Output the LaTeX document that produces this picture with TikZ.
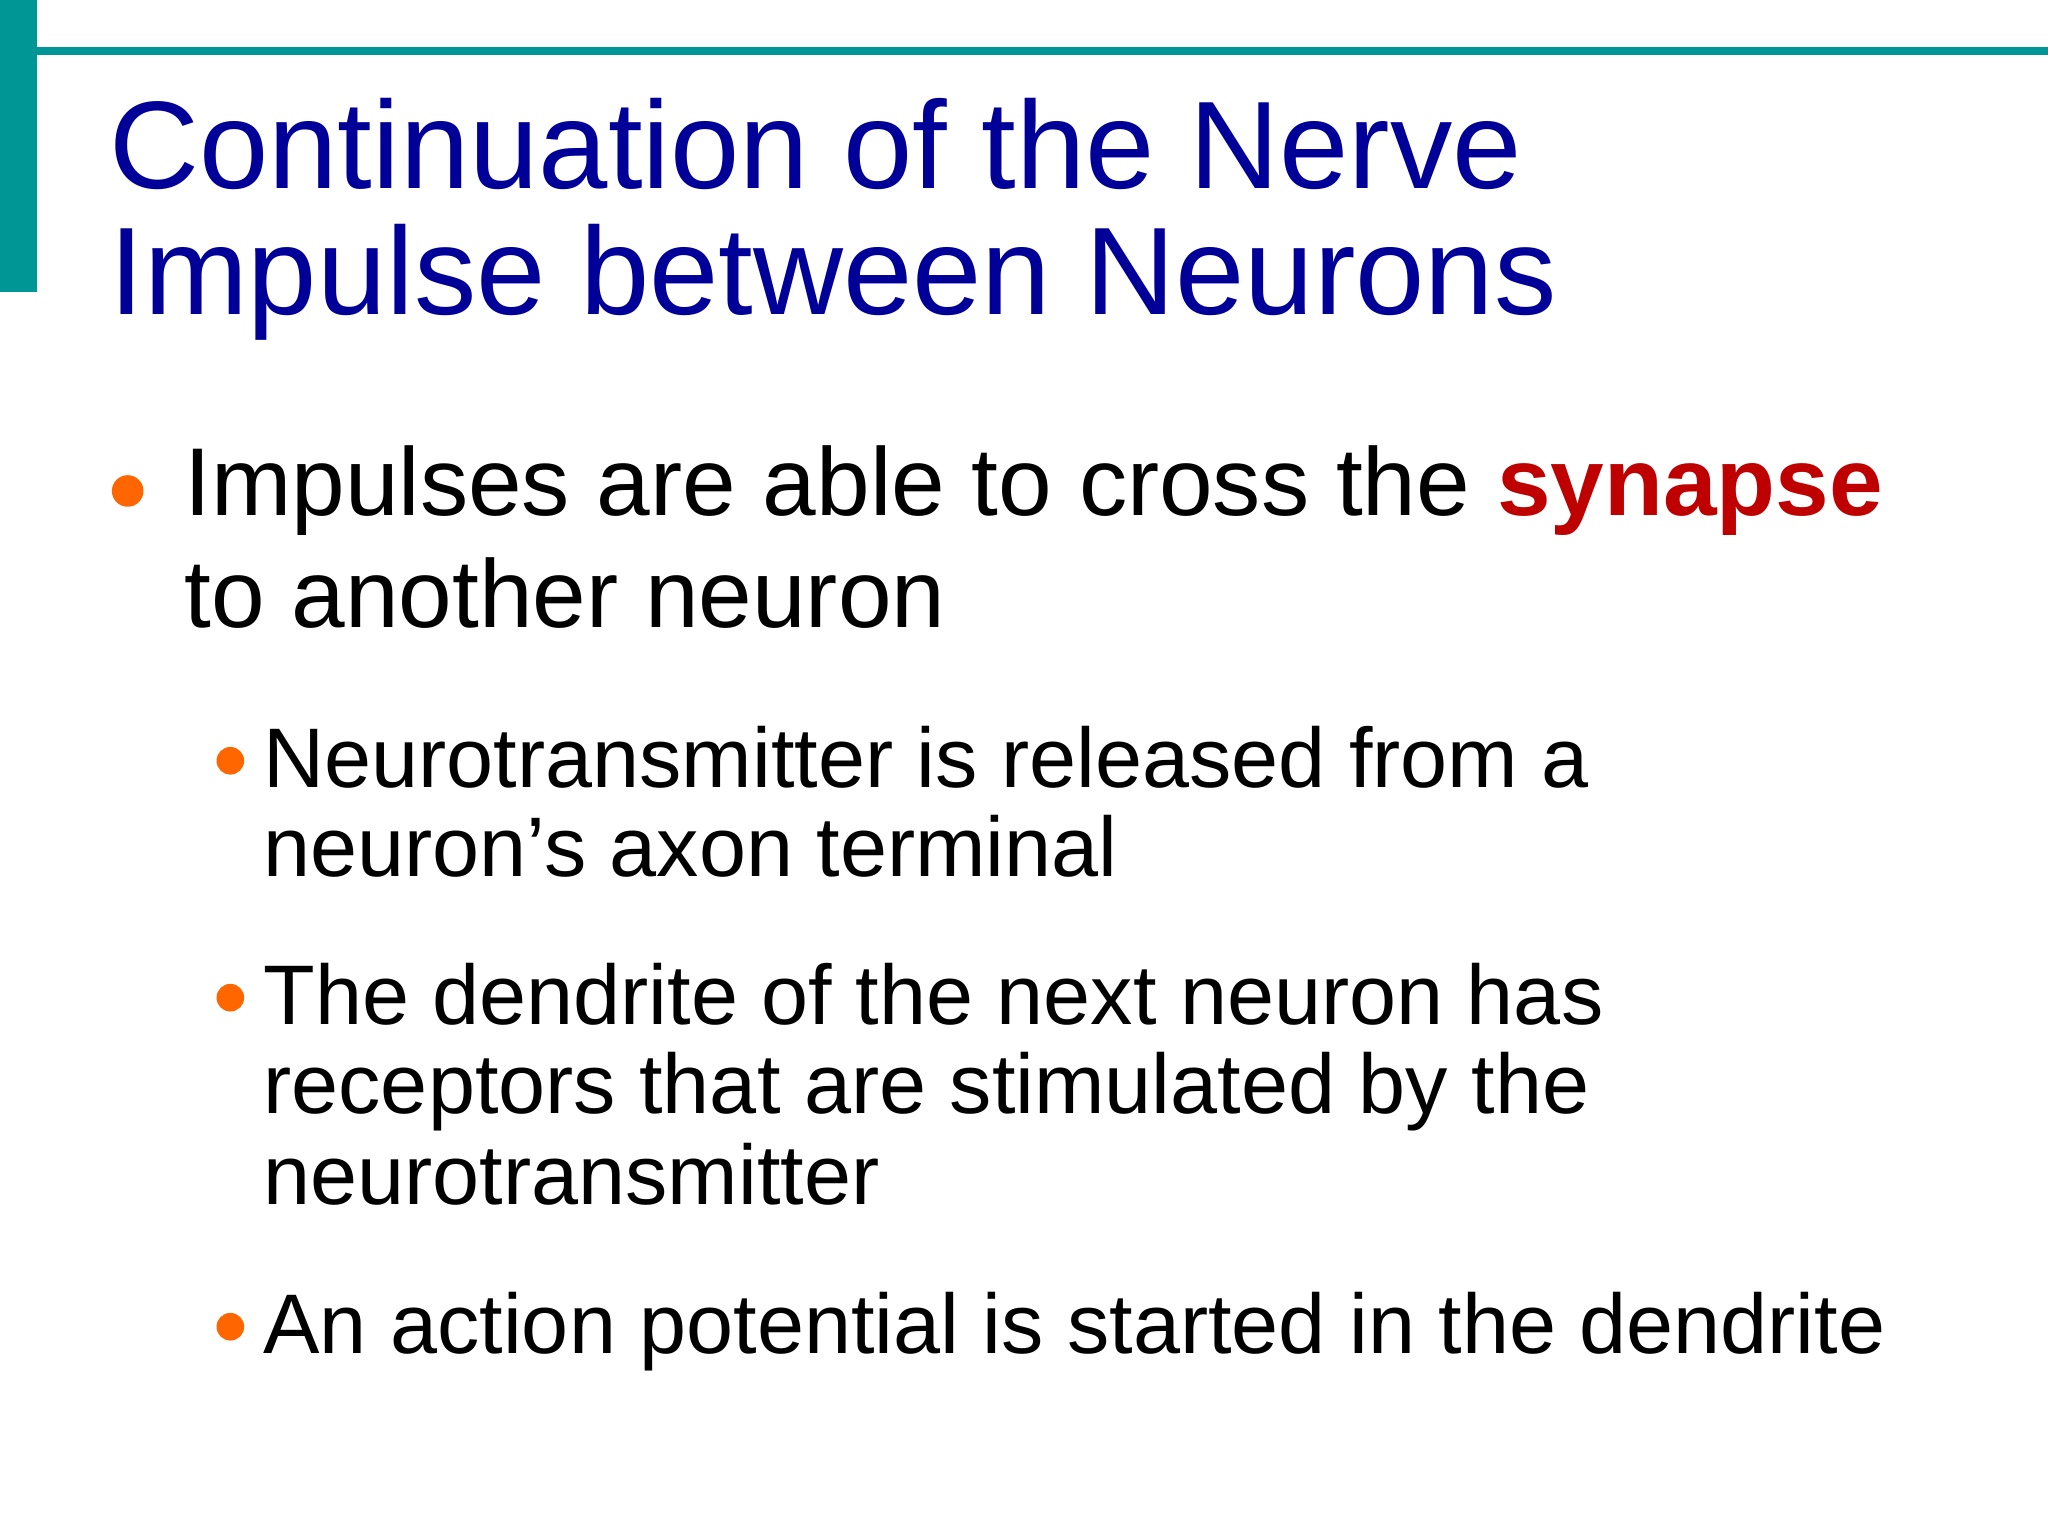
\documentclass[tikz,border=0pt]{standalone}
\usepackage{fontspec}
\setmainfont{Liberation Sans}
\definecolor{teal1}{RGB}{0,150,150}
\definecolor{tblue}{RGB}{0,0,153}
\definecolor{borange}{RGB}{255,102,0}
\definecolor{sred}{RGB}{190,0,0}
\begin{document}
\begin{tikzpicture}[x=1bp,y=-1bp,
  txt/.style={anchor=base west,inner sep=0pt},
  title/.style={txt,text=tblue,font=\fontsize{95}{95}\selectfont},
  main/.style={txt,font=\fontsize{73.5}{73.5}\selectfont},
  sub/.style={txt,font=\fontsize{64.5}{64.5}\selectfont},
  dot/.style={circle,fill=borange,inner sep=0pt}]
\useasboundingbox (0,0) rectangle (1556,1168);
\fill[teal1] (0,0) rectangle (28,222);
\fill[teal1] (28,36) rectangle (1556,42);
\node[title] (t1) at (83,143) {Continuation of the Nerve};
\node[title] (t2) at (83,239) {Impulse between Neurons};
\node[dot,minimum size=24bp] (b1) at (97,373) {};
\node[main] (m1) at (140,392) {Impulses are able to cross the \textbf{\color{sred}synapse}};
\node[main] (m2) at (140,477) {to another neuron};
\node[dot,minimum size=21bp] (s1) at (175,578) {};
\node[sub] (a1) at (200,598) {Neurotransmitter is released from a};
\node[sub] (a2) at (200,666) {neuron’s axon terminal};
\node[dot,minimum size=21bp] (s2) at (175,758) {};
\node[sub] (c1) at (200,778) {The dendrite of the next neuron has};
\node[sub] (c2) at (200,846) {receptors that are stimulated by the};
\node[sub] (c3) at (200,915) {neurotransmitter};
\node[dot,minimum size=21bp] (s3) at (175,1008) {};
\node[sub] (d1) at (200,1028) {An action potential is started in the dendrite};
\end{tikzpicture}
\end{document}
